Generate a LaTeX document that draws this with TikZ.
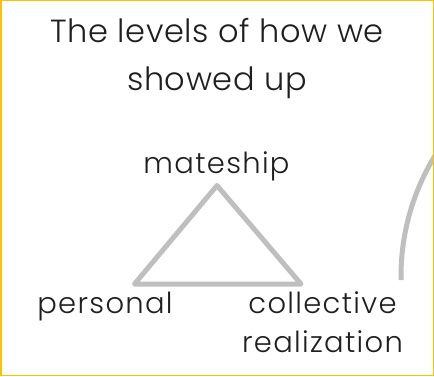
\documentclass[tikz,border=0pt]{standalone}
\usepackage{fontspec}
\IfFontExistsTF{Poppins Light}{\setmainfont{Poppins Light}[Ligatures=NoCommon]}{\setmainfont{Poppins}[Ligatures=NoCommon]}
\usepackage{tkz-euclide}
\definecolor{framegold}{HTML}{FFC000}
\definecolor{edgegray}{HTML}{BFBFBF}
\definecolor{inkgray}{HTML}{1F1F1F}

\begin{document}
\begin{tikzpicture}[x=1pt, y=1pt,
    heading/.style={font=\fontsize{32}{48}\selectfont\addfontfeatures{LetterSpace=2}, text=inkgray, inner sep=0pt, align=center},
    level/.style={font=\fontsize{29}{39}\selectfont\addfontfeatures{LetterSpace=4.5}, text=inkgray, inner sep=0pt, align=center}]
    \useasboundingbox (0,0) rectangle (434,376);
    \clip (0,0) rectangle (434,376);
    \tkzDefPoints{217/190.5/M,134.5/92/P,301/92/C}
    \tkzDrawPolygon[color=edgegray,line width=5pt,line join=round,line cap=round](M,P,C)
    % big arc cut by the right edge
    \tkzDefPoint(631,100){O}
    \draw[edgegray, line width=5pt] (O) ++(181:230) arc[start angle=181, end angle=140, radius=230];
    \node[heading, anchor=base] (title) at (217,286) {The levels of how we\\showed up};
    \node[level, anchor=base] (mateship) at (216.5,203) {mateship};
    \node[level, anchor=base] (personal) at (105,63) {personal};
    \node[level, anchor=base] (collective) at (322.5,24) {collective\\realization};
    \draw[framegold, line width=1.5pt] (0.75,0.75) rectangle (433.25,375.25);
\end{tikzpicture}
\end{document}
